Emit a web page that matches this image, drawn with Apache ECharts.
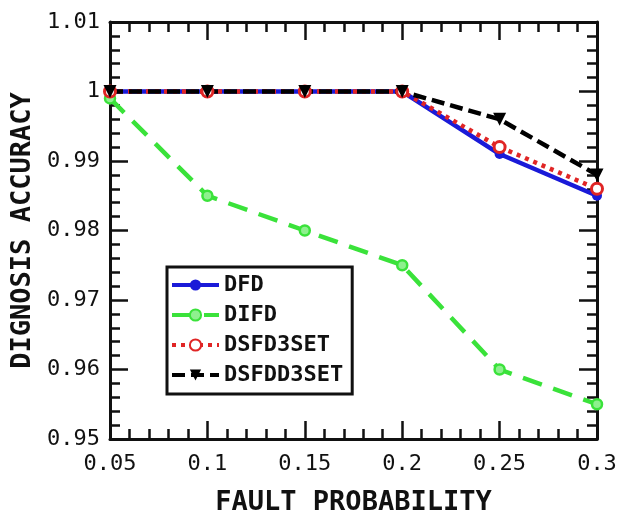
<!DOCTYPE html>
<html>
<head>
<meta charset="utf-8">
<script src="https://cdn.jsdelivr.net/npm/echarts@6/dist/echarts.min.js"></script>
<style>
html,body{margin:0;padding:0;background:#fff;}
#c{width:621px;height:515px;}
</style>
</head>
<body>
<div id="c"></div>
<script>
var xValues = [0.05, 0.1, 0.15, 0.2, 0.25, 0.3];
var seriesNames = ['DFD', 'DIFD', 'DSFD3SET', 'DSFDD3SET'];
var dfd = [1, 1, 1, 1, 0.991, 0.985];
var difd = [0.999, 0.985, 0.98, 0.975, 0.96, 0.955];
var dsfd3set = [1, 1, 1, 1, 0.992, 0.986];
var dsfdd3set = [1, 1, 1, 1, 0.996, 0.988];
var xTitle = 'FAULT PROBABILITY';
var yTitle = 'DIGNOSIS ACCURACY';

function pairs(ys){ return xValues.map(function(x,i){ return [x, ys[i]]; }); }
var FONT = 'DejaVu Sans Mono';
function fmt(v){ return String(parseFloat(v.toFixed(3))); }

var tickCommon = {
  axisLine: {show: true, lineStyle: {color: '#111', width: 3}},
  axisTick: {show: true, inside: true, length: 18, lineStyle: {color: '#111', width: 2.5}},
  minorTick: {show: true, splitNumber: 5, length: 10, lineStyle: {color: '#111', width: 2.5}},
  splitLine: {show: false},
  minorSplitLine: {show: false}
};

var chart = echarts.init(document.getElementById('c'));
chart.setOption({
  animation: false,
  backgroundColor: '#fff',
  grid: {left: 110, right: 24, top: 22, bottom: 76, containLabel: false, outerBoundsMode: 'none'},
  legend: {
    orient: 'vertical', left: 167, top: 267,
    padding: [7, 9, 8, 3],
    itemGap: 8, itemWidth: 47, itemHeight: 14,
    borderColor: '#111', borderWidth: 3,
    backgroundColor: '#fff',
    lineStyle: {width: 4},
    textStyle: {fontFamily: FONT, fontSize: 22, fontWeight: 'bold', color: '#111', lineHeight: 22},
    data: seriesNames
  },
  xAxis: [
    Object.assign({
      type: 'value', min: 0.05, max: 0.3, interval: 0.05, position: 'bottom',
      name: xTitle, nameLocation: 'middle', nameGap: 50,
      nameTextStyle: {fontFamily: FONT, fontSize: 27, fontWeight: 'bold', color: '#111'},
      axisLabel: {fontFamily: FONT, fontSize: 22, color: '#111', margin: 14, formatter: fmt}
    }, tickCommon),
    Object.assign({
      type: 'value', min: 0.05, max: 0.3, interval: 0.05, position: 'top',
      axisLabel: {show: false}
    }, tickCommon)
  ],
  yAxis: [
    Object.assign({
      type: 'value', min: 0.95, max: 1.01, interval: 0.01, position: 'left',
      name: yTitle, nameLocation: 'middle', nameGap: 72,
      nameTextStyle: {fontFamily: FONT, fontSize: 27, fontWeight: 'bold', color: '#111'},
      axisLabel: {fontFamily: FONT, fontSize: 22, color: '#111', margin: 10, formatter: fmt}
    }, tickCommon),
    Object.assign({
      type: 'value', min: 0.95, max: 1.01, interval: 0.01, position: 'right',
      axisLabel: {show: false}
    }, tickCommon)
  ],
  series: [
    {
      name: seriesNames[0], type: 'line', data: pairs(dfd),
      symbol: 'circle', symbolSize: 10,
      lineStyle: {color: '#1a1ad8', width: 4.5, type: 'solid'},
      itemStyle: {color: '#1a1ad8'}
    },
    {
      name: seriesNames[1], type: 'line', data: pairs(difd),
      symbol: 'circle', symbolSize: 10,
      lineStyle: {color: '#3ae23a', width: 4.5, type: [20, 12]},
      itemStyle: {color: '#8ef08e', borderColor: '#3ae23a', borderWidth: 2.5}
    },
    {
      name: seriesNames[2], type: 'line', data: pairs(dsfd3set),
      symbol: 'circle', symbolSize: 11,
      lineStyle: {color: '#e02525', width: 4.5, type: [4, 5]},
      itemStyle: {color: '#fff', borderColor: '#e02525', borderWidth: 3}
    },
    {
      name: seriesNames[3], type: 'line', data: pairs(dsfdd3set),
      symbol: 'triangle', symbolRotate: 180, symbolSize: 13,
      lineStyle: {color: '#000', width: 4.5, type: [13, 6]},
      itemStyle: {color: '#000'}
    }
  ]
});
</script>
</body>
</html>
